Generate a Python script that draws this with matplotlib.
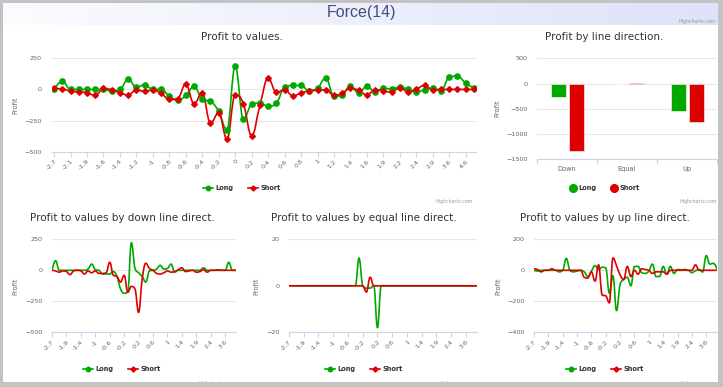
import matplotlib

matplotlib.use("Agg")

import matplotlib.pyplot as plt
import numpy as np
from matplotlib.colors import LinearSegmentedColormap
from matplotlib.lines import Line2D
from matplotlib.patches import PathPatch, Rectangle
from matplotlib.path import Path

W, H = 723, 387

categories = [
    "-2.7", "-2.4", "-2.1", "-2", "-1.9", "-1.8", "-1.6", "-1.5", "-1.4", "-1.3",
    "-1.2", "-1.1", "-1", "-0.9", "-0.8", "-0.7", "-0.6", "-0.5", "-0.4", "-0.3",
    "-0.2", "-0.1", "0", "0.1", "0.2", "0.3", "0.4", "0.5", "0.6", "0.7",
    "0.8", "0.9", "1", "1.1", "1.2", "1.3", "1.4", "1.5", "1.6", "1.7",
    "1.9", "2", "2.2", "2.3", "2.4", "2.6", "2.9", "3.2", "3.6", "4.1",
    "4.6", "5.2",
]

total_long = [
    0, 67, 0, 0, 0, 0, 0, -13, 0, 80,
    19, 37, 0, 0, -53, -88, -48, 24, -80, -96,
    -176, -323, 187, -240, -120, -109, -136, -112, 19, 32,
    32, -13, 8, 93, -56, -43, 27, -29, 27, -21,
    11, 3, 19, 0, -21, -3, 11, -11, 99, 107,
    51, 11,
]
total_short = [
    8, 3, -13, -19, -27, -48, 8, -3, -27, -45,
    -3, -16, -3, -32, -80, -75, 43, -115, -29, -272,
    -187, -400, -43, -115, -373, -128, 91, -24, -3, -51,
    -29, -11, -3, -3, -48, -32, 11, -8, -43, -3,
    -13, -21, 13, -19, 3, 32, -3, 0, 0, 0,
    0, 0,
]

directions = ["Down", "Equal", "Up"]
direction_long = [-270, -8, -546]
direction_short = [-1342, 1, -770]

down_long = [
    0, 78, 0, 0, 0, 0, 0, 0, 0, 0,
    10, 50, 5, 0, -30, -30, -30, -10, -50, -150,
    -185, -175, 223, 16, -20, -50, -95, -5, 0, 10,
    40, 10, 15, 50, -15, 0, 0, 0, 0, 0,
    0, 0, 20, 0, 0, 0, 5, 0, 0, 65,
    0, 0,
]
down_short = [
    0, -5, -15, -5, -10, -35, -5, 0, -5, -30,
    -5, -20, -5, -25, -25, -20, 65, -40, -50, -95,
    -40, -177, -130, -150, -340, -70, 57, 15, 0, -25,
    -30, -20, -5, -15, -10, 5, 20, -10, -5, 0,
    -15, -10, 5, -15, 0, 0, 0, 0, 0, 0,
    0, 0,
]

equal_long = [
    0, 0, 0, 0, 0, 0, 0, 0, 0, 0,
    0, 0, 0, 0, 0, 0, 0, 0, 0, 12,
    0, -1, -1, 0, -18, 0, 0, 0, 0, 0,
    0, 0, 0, 0, 0, 0, 0, 0, 0, 0,
    0, 0, 0, 0, 0, 0, 0, 0, 0, 0,
    0, 0,
]
equal_short = [
    0, 0, 0, 0, 0, 0, 0, 0, 0, 0,
    0, 0, 0, 0, 0, 0, 0, 0, 0, 0,
    0, -2.7, 3.7, 0, 0, 0, 0, 0, 0, 0,
    0, 0, 0, 0, 0, 0, 0, 0, 0, 0,
    0, 0, 0, 0, 0, 0, 0, 0, 0, 0,
    0, 0,
]

up_long = [
    0, -5, 0, 0, 0, 0, 0, -10, 0, 77,
    0, -10, -5, 0, -10, -40, -5, 30, 5, 20,
    15, -148, -35, -260, -90, -60, -45, -100, 25, 25,
    -15, -20, -5, 40, -40, -40, 25, -25, 25, -20,
    5, 3, 0, 0, -15, -3, 5, -11, 95, 40,
    45, 10,
]
up_short = [
    10, 5, -10, 0, 0, 10, 0, 0, 0, 0,
    0, 0, 0, 0, -45, -50, -10, -70, 35, -160,
    -165, -210, 80, 30, -30, -60, 25, -40, 0, -25,
    10, 5, 0, -20, -10, -10, -10, -25, 0, 0,
    0, 0, 5, 0, 0, 35, 0, 0, 0, 0,
    0, 0,
]

GREEN = "#00a800"
RED = "#dd0000"
GRID = "#e6e6e6"
AXIS = "#ccd6eb"
LABEL = "#666666"
FRAME = "#c3c3c3"


def rect(x0, y0, x1, y1):
    return [x0 / W, 1 - y1 / H, (x1 - x0) / W, (y1 - y0) / H]


def fx(x):
    return x / W


def fy(y):
    return 1 - y / H


def spline_path(xs, ys, smoothing=1.5):
    # same control points as a Highcharts spline series
    denom = smoothing + 1
    n = len(xs)
    left = [None] * n
    right = [None] * n
    for i in range(1, n - 1):
        px, py = xs[i], ys[i]
        lx, ly = xs[i - 1], ys[i - 1]
        nx, ny = xs[i + 1], ys[i + 1]
        lcx = (smoothing * px + lx) / denom
        lcy = (smoothing * py + ly) / denom
        rcx = (smoothing * px + nx) / denom
        rcy = (smoothing * py + ny) / denom
        corr = 0.0
        if rcx != lcx:
            corr = (rcy - lcy) * (rcx - px) / (rcx - lcx) + py - rcy
        lcy += corr
        rcy += corr
        if lcy > ly and lcy > py:
            lcy = max(ly, py)
            rcy = 2 * py - lcy
        elif lcy < ly and lcy < py:
            lcy = min(ly, py)
            rcy = 2 * py - lcy
        if rcy > ny and rcy > py:
            rcy = max(ny, py)
            lcy = 2 * py - rcy
        elif rcy < ny and rcy < py:
            rcy = min(ny, py)
            lcy = 2 * py - rcy
        left[i] = (lcx, lcy)
        right[i] = (rcx, rcy)
    verts = [(xs[0], ys[0])]
    codes = [Path.MOVETO]
    for i in range(1, n):
        c1 = right[i - 1] or (xs[i - 1], ys[i - 1])
        c2 = left[i] or (xs[i], ys[i])
        verts += [c1, c2, (xs[i], ys[i])]
        codes += [Path.CURVE4] * 3
    return Path(verts, codes)


def draw_spline(ax, values, color, marker=None, ms=3.5):
    xs = np.arange(len(values), dtype=float)
    ys = np.asarray(values, dtype=float)
    patch = PathPatch(spline_path(xs, ys), fill=False, edgecolor=color,
                      linewidth=1.2, capstyle="round", joinstyle="round", zorder=3)
    ax.add_patch(patch)
    if marker:
        ax.plot(xs, ys, ls="none", marker=marker, ms=ms, color=color, mec=color, zorder=4)


def style_axes(ax, yticks, ylim, pad):
    ax.set_facecolor("none")
    ax.set_ylim(*ylim)
    ax.set_yticks(yticks)
    for side in ["top", "right", "left"]:
        ax.spines[side].set_visible(False)
    ax.spines["bottom"].set_color(AXIS)
    ax.spines["bottom"].set_linewidth(0.8)
    ax.grid(axis="y", color=GRID, linewidth=0.8)
    ax.set_axisbelow(True)
    ax.tick_params(axis="y", length=0, labelsize=4.6, labelcolor=LABEL, pad=pad)
    ax.tick_params(axis="x", length=3.5, width=0.8, color=AXIS, labelsize=4.6,
                   labelcolor=LABEL, pad=1.5)


def category_ticks(ax, step):
    idx = list(range(0, len(categories), step))
    ax.set_xticks(idx, labels=[categories[i] for i in idx])
    plt.setp(ax.get_xticklabels(), rotation=45, ha="right", va="top",
             rotation_mode="anchor")


def line_legend(cx, cy):
    handles = [
        Line2D([], [], color=GREEN, lw=1.2, marker="o", ms=3.2, label="Long"),
        Line2D([], [], color=RED, lw=1.2, marker="D", ms=2.6, label="Short"),
    ]
    fig.legend(handles=handles, loc="center", bbox_to_anchor=(fx(cx), fy(cy)), ncol=2,
               frameon=False, prop=dict(size=4.8, weight="bold"), labelcolor="#333333",
               handlelength=1.5, handletextpad=0.4, columnspacing=2.2, borderpad=0)


def credit(x, y):
    fig.text(fx(x), fy(y), "Highcharts.com", fontsize=3.4, color="#999999",
             ha="right", va="center")


fig = plt.figure(figsize=(W / 100, H / 100), dpi=100, facecolor=FRAME)
fig.patches.append(Rectangle((fx(3), fy(382)), fx(715), 379 / H, transform=fig.transFigure,
                             facecolor="white", edgecolor="none", zorder=-5))

# title bar with the light gradient
bar = fig.add_axes(rect(3, 3, 718, 25))
shade = LinearSegmentedColormap.from_list("bar", ["#fbfcff", "#dde2f8"])
bar.imshow(np.linspace(0, 1, 256)[None, :], aspect="auto", cmap=shade, extent=(0, 1, 0, 1))
bar.set_axis_off()
fig.text(fx(362), fy(13), "Force(14)", fontsize=11.5, color="#44507a", ha="center",
         va="center", family=["Liberation Sans Narrow", "Liberation Sans"])
credit(716, 21)

# profit to values
ax1 = fig.add_axes(rect(52, 58.3, 476, 151.7))
style_axes(ax1, [-500, -250, 0, 250], (-500, 250), 7.5)
ax1.set_xlim(-0.25, len(categories) - 0.75)
draw_spline(ax1, total_long, GREEN, "o", 3.8)
draw_spline(ax1, total_short, RED, "D", 2.9)
category_ticks(ax1, 2)
fig.text(fx(242), fy(37), "Profit to values.", fontsize=7.5, color="#333333", ha="center", va="center")
fig.text(fx(15), fy(105), "Profit", fontsize=4.8, color=LABEL, rotation=90, ha="center", va="center")
line_legend(242, 188)
credit(473, 201)

# profit by line direction
ax2 = fig.add_axes(rect(537, 58.3, 717, 159.3))
style_axes(ax2, [-1500, -1000, -500, 0, 500], (-1500, 500), 6.5)
pos = np.arange(len(directions))
ax2.bar(pos - 0.15, direction_long, width=0.25, color=GREEN, edgecolor="white", linewidth=0.4)
ax2.bar(pos + 0.15, direction_short, width=0.25, color=RED, edgecolor="white", linewidth=0.4)
ax2.set_xlim(-0.5, 2.5)
ax2.set_xticks([-0.5, 0.5, 1.5, 2.5], labels=["", "", "", ""])
ax2.set_xticks(pos, labels=directions, minor=True)
ax2.tick_params(axis="x", which="minor", length=0, labelsize=4.8, labelcolor=LABEL, pad=5)
fig.text(fx(604), fy(37), "Profit by line direction.", fontsize=7.5, color="#333333", ha="center", va="center")
fig.text(fx(497), fy(108), "Profit", fontsize=4.8, color=LABEL, rotation=90, ha="center", va="center")
bar_handles = [
    Line2D([], [], ls="none", marker="o", ms=5.5, color=GREEN, label="Long"),
    Line2D([], [], ls="none", marker="o", ms=5.5, color=RED, label="Short"),
]
fig.legend(handles=bar_handles, loc="center", bbox_to_anchor=(fx(605), fy(188)), ncol=2,
           frameon=False, prop=dict(size=4.8, weight="bold"), labelcolor="#333333",
           handlelength=0.8, handletextpad=0.5, columnspacing=2.2, borderpad=0)
credit(717, 201)

# split by direction
panels = [
    (rect(52, 239.3, 236, 332.3), down_long, down_short, [-500, -250, 0, 250], (-500, 250),
     "Profit to values by down line direct.", 122, 15),
    (rect(289, 239.3, 477, 332.3), equal_long, equal_short, [-20, 0, 20], (-20, 20),
     "Profit to values by equal line direct.", 364, 256),
    (rect(534, 239.3, 717, 332.3), up_long, up_short, [-400, -200, 0, 200], (-400, 200),
     "Profit to values by up line direct.", 605, 498),
]
for box, longs, shorts, yticks, ylim, title, cx, lx in panels:
    ax = fig.add_axes(box)
    style_axes(ax, yticks, ylim, 7)
    ax.set_xlim(0, len(categories) - 1)
    draw_spline(ax, longs, GREEN)
    draw_spline(ax, shorts, RED)
    category_ticks(ax, 4)
    fig.text(fx(cx), fy(218), title, fontsize=7.5, color="#333333", ha="center", va="center")
    fig.text(fx(lx), fy(286), "Profit", fontsize=4.8, color=LABEL, rotation=90, ha="center", va="center")
    line_legend(cx, 369)
    credit(box[0] * W + box[2] * W, 383)

# grey frame drawn over the clipped credits
fig.patches.append(Rectangle((0, 0), 1, fy(382), transform=fig.transFigure,
                             facecolor=FRAME, edgecolor="none", zorder=10))

fig.savefig("out.png", dpi=100, facecolor=FRAME)
